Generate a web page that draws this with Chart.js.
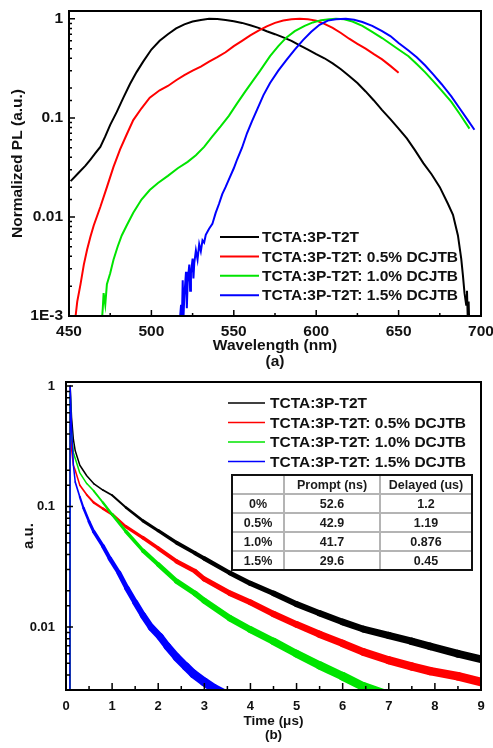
<!DOCTYPE html>
<html lang="en">
<head>
<meta charset="UTF-8">
<title>PL spectra and transient PL decay</title>
<script src="https://cdn.jsdelivr.net/npm/chart.js"></script>
<style>
  body { margin: 0; background: #fff; }
  #wrap { position: relative; width: 493px; height: 748px; }
  #specBox { position: absolute; left: 0; top: 0; width: 493px; height: 372px; }
  #decayBox { position: absolute; left: 0; top: 372px; width: 493px; height: 376px; }
</style>
</head>
<body>
<div id="wrap">
  <div id="specBox"><canvas id="specChart"></canvas></div>
  <div id="decayBox"><canvas id="decayChart"></canvas></div>
</div>
<script>
// series names and colours (same order in both panels)
const seriesNames = ['TCTA:3P-T2T', 'TCTA:3P-T2T: 0.5% DCJTB', 'TCTA:3P-T2T: 1.0% DCJTB', 'TCTA:3P-T2T: 1.5% DCJTB'];
const seriesColors = ['#000000', '#ff0000', '#00e400', '#0000ff'];

// (a) normalized PL spectra, wavelength in nm
const wlNeat = [451, 455, 460, 463, 466, 469, 472, 475, 479, 483, 487, 491, 495, 500, 505, 510, 515, 520, 525, 530, 535, 540, 545, 550, 555, 560, 565, 570, 575, 580, 585, 590, 595, 600, 605, 610, 615, 620, 625, 630, 635, 640, 645, 650, 655, 660, 665, 670, 675, 680, 683, 686, 688, 689, 690, 691, 691.5, 692, 692.5, 693, 694];
const plNeat = [0.023, 0.027, 0.033, 0.038, 0.044, 0.051, 0.065, 0.085, 0.115, 0.16, 0.22, 0.29, 0.37, 0.49, 0.6, 0.7, 0.8, 0.88, 0.94, 0.975, 1.0, 0.995, 0.975, 0.945, 0.91, 0.86, 0.81, 0.75, 0.7, 0.65, 0.6, 0.54, 0.49, 0.44, 0.4, 0.355, 0.31, 0.265, 0.225, 0.185, 0.15, 0.12, 0.097, 0.078, 0.062, 0.047, 0.035, 0.027, 0.02, 0.0135, 0.0105, 0.0065, 0.0038, 0.0026, 0.0017, 0.0013, 0.0018, 0.0009, 0.0014, 0.0007, 0.0005];

const wl05 = [453, 454, 455, 457, 459, 461, 463, 465, 469, 473, 477, 481, 485, 489, 494, 499, 505, 510, 515, 520, 525, 530, 535, 540, 545, 550, 555, 560, 565, 570, 575, 580, 585, 590, 595, 600, 605, 610, 615, 620, 625, 630, 635, 640, 645, 650];
const pl05 = [0.0008, 0.001, 0.0014, 0.0021, 0.0033, 0.0047, 0.0063, 0.0082, 0.0126, 0.02, 0.032, 0.048, 0.068, 0.095, 0.125, 0.16, 0.19, 0.21, 0.24, 0.27, 0.3, 0.33, 0.37, 0.41, 0.46, 0.53, 0.6, 0.68, 0.76, 0.84, 0.91, 0.96, 0.99, 1.0, 0.99, 0.96, 0.89, 0.81, 0.72, 0.63, 0.56, 0.5, 0.44, 0.39, 0.335, 0.285];

const wl10 = [469.5, 470.5, 471, 472, 473, 475, 477, 479.5, 482, 485, 489, 494, 499, 504, 510, 516, 522, 527, 532, 537, 542, 547, 552, 557, 561, 566, 572, 577, 582, 587, 593, 598, 603, 608, 612, 617, 622, 628, 634, 640, 645, 650, 656, 661, 666, 671, 676, 682, 687, 693];
const pl10 = [0.0007, 0.0012, 0.0017, 0.0013, 0.0021, 0.0027, 0.0037, 0.005, 0.0065, 0.0082, 0.011, 0.015, 0.0187, 0.022, 0.026, 0.031, 0.036, 0.042, 0.051, 0.065, 0.082, 0.105, 0.14, 0.185, 0.23, 0.3, 0.42, 0.53, 0.65, 0.75, 0.85, 0.92, 0.97, 0.99, 1.0, 0.99, 0.94, 0.85, 0.74, 0.64, 0.56, 0.49, 0.42, 0.35, 0.29, 0.235, 0.19, 0.145, 0.11, 0.078];

const wl15 = [517, 518, 518.5, 519, 519.5, 520, 521, 521.5, 522, 523, 523.5, 524, 525, 525.5, 526, 527, 528, 529, 530, 531, 532, 533, 535, 537, 539, 541, 543, 545, 547.5, 550, 552, 555, 558, 561, 564, 568, 572, 577, 582, 587, 592, 597, 602, 607, 612, 618, 623, 628, 634, 640, 645, 650, 656, 661, 666, 671, 676, 682, 687, 692, 696];
const pl15 = [0.0008, 0.0013, 0.0009, 0.0023, 0.001, 0.0016, 0.0028, 0.0012, 0.0022, 0.0033, 0.0018, 0.0027, 0.0038, 0.0024, 0.0034, 0.0046, 0.0037, 0.0053, 0.0045, 0.0058, 0.0055, 0.0066, 0.0076, 0.0085, 0.011, 0.0135, 0.017, 0.02, 0.025, 0.031, 0.038, 0.05, 0.07, 0.092, 0.12, 0.17, 0.225, 0.3, 0.385, 0.49, 0.61, 0.74, 0.87, 0.96, 0.99, 1.0, 0.98, 0.93, 0.85, 0.75, 0.67, 0.57, 0.48, 0.41, 0.34, 0.275, 0.22, 0.165, 0.125, 0.095, 0.076];

// (b) transient PL decay, time in microseconds
const tNeat = [0.085, 0.09, 0.12, 0.16, 0.2, 0.3, 0.45, 0.6, 0.8, 1.0, 1.3, 1.67, 2.0, 2.4, 2.8, 3.0, 3.56, 4.0, 4.5, 5.0, 5.5, 6.0, 6.45, 7.0, 7.5, 7.9, 8.5, 9.0];
const decNeat = [0.0025, 1.0, 0.55, 0.36, 0.29, 0.22, 0.18, 0.155, 0.137, 0.124, 0.098, 0.076, 0.063, 0.05, 0.041, 0.037, 0.028, 0.023, 0.019, 0.0155, 0.013, 0.011, 0.0096, 0.0085, 0.0076, 0.0069, 0.006, 0.0054];

const t05 = [0.085, 0.09, 0.12, 0.16, 0.2, 0.3, 0.45, 0.6, 0.8, 1.0, 1.3, 1.67, 2.0, 2.4, 2.8, 3.0, 3.56, 4.0, 4.5, 5.0, 5.5, 6.0, 6.45, 7.0, 7.5, 7.9, 8.5, 9.0];
const dec05 = [0.0025, 0.6, 0.3, 0.22, 0.2, 0.15, 0.125, 0.108, 0.096, 0.086, 0.068, 0.055, 0.045, 0.035, 0.029, 0.025, 0.019, 0.016, 0.0128, 0.0105, 0.0087, 0.0073, 0.0062, 0.0053, 0.0047, 0.0043, 0.0039, 0.0035];

const t10 = [0.085, 0.09, 0.12, 0.16, 0.2, 0.3, 0.45, 0.6, 0.8, 1.0, 1.3, 1.67, 2.0, 2.4, 2.8, 3.0, 3.56, 4.0, 4.5, 5.0, 5.5, 6.0, 6.45, 7.0, 7.5];
const dec10 = [0.0025, 0.9, 0.4, 0.28, 0.25, 0.19, 0.155, 0.135, 0.108, 0.086, 0.062, 0.043, 0.033, 0.024, 0.019, 0.0165, 0.0118, 0.0095, 0.0076, 0.006, 0.0048, 0.0039, 0.0032, 0.0027, 0.0023];

const t15 = [0.085, 0.09, 0.12, 0.16, 0.2, 0.3, 0.38, 0.5, 0.6, 0.8, 0.95, 1.15, 1.32, 1.5, 1.67, 1.85, 2.04, 2.2, 2.4, 2.6, 2.76, 3.0, 3.2, 3.5, 3.8];
const dec15 = [0.0025, 1.0, 0.45, 0.22, 0.16, 0.12, 0.097, 0.075, 0.062, 0.047, 0.037, 0.028, 0.021, 0.016, 0.0125, 0.0099, 0.0083, 0.0069, 0.0056, 0.0047, 0.0041, 0.0035, 0.0031, 0.0027, 0.0024];

// lifetime table
const tableHead = ['', 'Prompt (ns)', 'Delayed (us)'];
const dopings = ['0%', '0.5%', '1.0%', '1.5%'];
const promptNs = ['52.6', '42.9', '41.7', '29.6'];
const delayedUs = ['1.2', '1.19', '0.876', '0.45'];

// decade labels on the log axes
const specYTicks = [1, 0.1, 0.01, 0.001];
const specYLabels = ['1', '0.1', '0.01', '1E-3'];
const decayYTicks = [1, 0.1, 0.01];
const decayYLabels = ['1', '0.1', '0.01'];

const FONT = "'Liberation Sans', Arial, Helvetica, sans-serif";
const zip = (xs, ys) => xs.map((x, i) => ({ x: x, y: ys[i] }));
const isDecade = v => Math.abs(Math.log10(v) - Math.round(Math.log10(v))) < 1e-6;
const decadeLabel = (ticks, labels) => v => {
  const i = ticks.findIndex(t => Math.abs(t - v) / t < 1e-6);
  return i < 0 ? '' : labels[i];
};

// inward tick marks and the closed frame around the plot area
const framePlugin = {
  id: 'frame',
  afterDatasetsDraw(chart, args, o) {
    const { ctx, chartArea: a, scales: { x, y } } = chart;
    ctx.save();
    ctx.strokeStyle = '#000';
    ctx.lineWidth = 1.5;
    ctx.beginPath();
    x.ticks.forEach(t => {
      const px = x.getPixelForValue(t.value);
      const len = Math.abs(t.value / o.xMajor - Math.round(t.value / o.xMajor)) < 1e-6 ? o.major : o.minor;
      ctx.moveTo(px, a.bottom);
      ctx.lineTo(px, a.bottom - len);
    });
    y.ticks.forEach(t => {
      const py = y.getPixelForValue(t.value);
      if (py < a.top + 2 || py > a.bottom - 1) return;
      const len = isDecade(t.value) ? o.major : o.minor;
      ctx.moveTo(a.left, py);
      ctx.lineTo(a.left + len, py);
    });
    ctx.stroke();
    ctx.lineWidth = 2;
    ctx.strokeRect(a.left, a.top, a.right - a.left, a.bottom - a.top);
    ctx.restore();
  }
};

// legend drawn inside the plot area
const innerLegend = {
  id: 'innerLegend',
  afterDraw(chart, args, o) {
    const ctx = chart.ctx;
    ctx.save();
    ctx.font = o.font;
    ctx.textAlign = 'left';
    ctx.textBaseline = 'middle';
    chart.data.datasets.forEach((ds, i) => {
      const y = o.top + i * o.gap;
      ctx.strokeStyle = ds.borderColor;
      ctx.lineWidth = o.lineWidth;
      ctx.beginPath();
      ctx.moveTo(o.x0, y);
      ctx.lineTo(o.x1, y);
      ctx.stroke();
      ctx.fillStyle = '#111';
      ctx.fillText(ds.label, o.textX, y + 1);
    });
    ctx.restore();
  }
};

// lifetime table under the decay legend
const lifetimeTable = {
  id: 'lifetimeTable',
  afterDraw(chart, args, o) {
    const ctx = chart.ctx;
    const xs = o.cols, top = o.top, h = o.rowH;
    const rows = [tableHead].concat(dopings.map((d, i) => [d, promptNs[i], delayedUs[i]]));
    const bottom = top + rows.length * h;
    ctx.save();
    ctx.fillStyle = '#fff';
    ctx.fillRect(xs[0], top, xs[xs.length - 1] - xs[0], bottom - top);
    ctx.strokeStyle = '#b4b4b4';
    ctx.lineWidth = 2;
    ctx.beginPath();
    for (let r = 1; r < rows.length; r++) {
      ctx.moveTo(xs[0], top + r * h);
      ctx.lineTo(xs[xs.length - 1], top + r * h);
    }
    for (let c = 1; c < xs.length - 1; c++) {
      ctx.moveTo(xs[c], top);
      ctx.lineTo(xs[c], bottom);
    }
    ctx.stroke();
    ctx.strokeStyle = '#111';
    ctx.strokeRect(xs[0], top, xs[xs.length - 1] - xs[0], bottom - top);
    ctx.fillStyle = '#1a1a1a';
    ctx.font = o.font;
    ctx.textAlign = 'center';
    ctx.textBaseline = 'middle';
    rows.forEach((row, r) => {
      row.forEach((txt, c) => {
        ctx.fillText(txt, (xs[c] + xs[c + 1]) / 2, top + r * h + h / 2 + 1);
      });
    });
    ctx.restore();
  }
};

const fixWidth = w => s => { s.width = w; s.paddingTop = 0; s.paddingBottom = 0; };
const fixHeight = h => s => { s.height = h; s.paddingLeft = 0; s.paddingRight = 0; };

// ---- (a) spectra ----
const specSets = [[wlNeat, plNeat], [wl05, pl05], [wl10, pl10], [wl15, pl15]].map((p, i) => ({
  label: seriesNames[i],
  data: zip(p[0], p[1]),
  borderColor: seriesColors[i],
  borderWidth: 2,
  pointRadius: 0,
  tension: 0,
  clip: 0,
  order: 3 - i
}));

new Chart(document.getElementById('specChart'), {
  type: 'line',
  data: { datasets: specSets },
  options: {
    responsive: true,
    maintainAspectRatio: false,
    animation: false,
    devicePixelRatio: 1,
    layout: { padding: { top: 11, right: 12, left: 0, bottom: 2 } },
    plugins: {
      legend: { display: false },
      tooltip: { enabled: false },
      frame: { xMajor: 50, major: 6, minor: 3 },
      innerLegend: { font: 'bold 15.5px ' + FONT, top: 237, gap: 19.4, x0: 220, x1: 259, textX: 262, lineWidth: 2 }
    },
    scales: {
      x: {
        type: 'linear', min: 450, max: 700,
        afterFit: fixHeight(372 - 316 - 2),
        grid: { display: false, drawTicks: false }, border: { display: false },
        ticks: { stepSize: 25, autoSkip: false, maxRotation: 0, padding: 6, color: '#111',
          font: { family: FONT, size: 15.5, weight: 'bold' },
          callback: v => (v % 50 === 0 ? String(v) : '') },
        title: { display: true, text: ['Wavelength (nm)', '(a)'], color: '#111', padding: 0,
          font: { family: FONT, size: 15.5, weight: 'bold', lineHeight: '16px' } }
      },
      y: {
        type: 'logarithmic', min: 0.001, max: 1.2,
        afterFit: fixWidth(69),
        grid: { display: false, drawTicks: false }, border: { display: false },
        ticks: { autoSkip: false, padding: 6, color: '#111',
          font: { family: FONT, size: 15.5, weight: 'bold' },
          callback: decadeLabel(specYTicks, specYLabels) },
        title: { display: true, text: 'Normalized PL (a.u.)', color: '#111', padding: { top: 10 },
          font: { family: FONT, size: 15.5, weight: 'bold', lineHeight: '16px' } }
      }
    }
  },
  plugins: [framePlugin, innerLegend]
});

// ---- (b) decay ----
// the counting noise widens the trace as the signal falls
const noiseWidth = v => 1.5 + 4.5 * Math.max(0, Math.log10(0.15 / v));

const decaySets = [[tNeat, decNeat], [t05, dec05], [t10, dec10], [t15, dec15]].map((p, i) => ({
  label: seriesNames[i],
  data: zip(p[0], p[1]),
  borderColor: seriesColors[i],
  borderWidth: 1.5,
  borderJoinStyle: 'round',
  borderCapStyle: 'round',
  pointRadius: 0,
  tension: 0,
  clip: 0,
  order: 3 - i,
  segment: { borderWidth: c => (c.p0.parsed.y < 0.01 && c.p0.parsed.x < 0.095) ? 1.5 : noiseWidth(Math.sqrt(c.p0.parsed.y * c.p1.parsed.y)) }
}));

new Chart(document.getElementById('decayChart'), {
  type: 'line',
  data: { datasets: decaySets },
  options: {
    responsive: true,
    maintainAspectRatio: false,
    animation: false,
    devicePixelRatio: 1,
    layout: { padding: { top: 10, right: 12, left: 0, bottom: 6 } },
    plugins: {
      legend: { display: false },
      tooltip: { enabled: false },
      frame: { xMajor: 1, major: 7, minor: 4 },
      innerLegend: { font: 'bold 15.5px ' + FONT, top: 31, gap: 19.5, x0: 228, x1: 265, textX: 270, lineWidth: 1.5 },
      lifetimeTable: { cols: [232, 284, 380, 472], top: 103, rowH: 19, font: 'bold 12.5px ' + FONT }
    },
    scales: {
      x: {
        type: 'linear', min: 0, max: 9,
        afterFit: fixHeight(376 - 318 - 6),
        grid: { display: false, drawTicks: false }, border: { display: false },
        ticks: { stepSize: 0.5, autoSkip: false, maxRotation: 0, padding: 9, color: '#111',
          font: { family: FONT, size: 13, weight: 'bold' },
          callback: v => (Number.isInteger(v) ? String(v) : '') },
        title: { display: true, text: ['Time (\u03bcs)', '(b)'], color: '#111', padding: 0,
          font: { family: FONT, size: 13.5, weight: 'bold', lineHeight: '14px' } }
      },
      y: {
        type: 'logarithmic', min: 0.003, max: 1.08,
        afterFit: fixWidth(66),
        grid: { display: false, drawTicks: false }, border: { display: false },
        ticks: { autoSkip: false, padding: 11, color: '#111',
          font: { family: FONT, size: 13, weight: 'bold' },
          callback: decadeLabel(decayYTicks, decayYLabels) },
        title: { display: true, text: 'a.u.', color: '#111', padding: { top: 21 },
          font: { family: FONT, size: 15, weight: 'bold', lineHeight: '16px' } }
      }
    }
  },
  plugins: [framePlugin, innerLegend, lifetimeTable]
});
</script>
</body>
</html>
